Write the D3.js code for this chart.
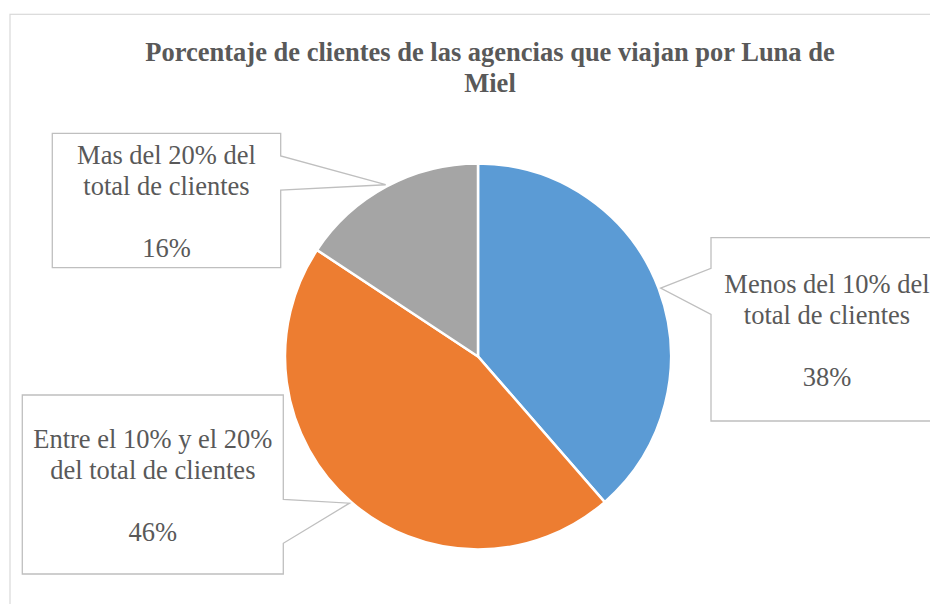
<!DOCTYPE html>
<html>
<head>
<meta charset="utf-8">
<script src="https://cdn.jsdelivr.net/npm/d3@7"></script>
<style>
  body { margin: 0; background: #fff; }
  svg { display: block; }
</style>
</head>
<body>
<div id="chart"></div>
<script>
// datos
var categories = ["Menos del 10% del total de clientes",
                  "Entre el 10% y el 20% del total de clientes",
                  "Mas del 20% del total de clientes"];
var labelLines = [["Menos del 10% del", "total de clientes"],
                  ["Entre el 10% y el 20%", "del total de clientes"],
                  ["Mas del 20% del", "total de clientes"]];
var values = [38.6, 45.7, 15.7];
var pctLabels = ["38%", "46%", "16%"];
var colors = ["#5b9bd5", "#ed7d31", "#a5a5a5"];

var width = 930, height = 604;
var cx = 478, cy = 356.5, radius = 193;

// cajas de etiquetas (x, y, ancho, alto, lado del puntero, base del puntero)
var boxes = [
  {x: 711, y: 237.7, w: 232, h: 183.3, side: "left", b0: 268.3, b1: 314.3},
  {x: 22.3, y: 395, w: 261, h: 179, side: "right", b0: 499.3, b1: 543.3},
  {x: 52.3, y: 133.3, w: 228.4, h: 134.4, side: "right", b0: 156, b1: 190}
];

var svg = d3.select("#chart").append("svg")
    .attr("width", width).attr("height", height);

// marco del grafico
svg.append("rect")
    .attr("x", 10).attr("y", 14.3)
    .attr("width", 1000).attr("height", 700)
    .attr("fill", "none")
    .attr("stroke", "#d9d9d9")
    .attr("stroke-width", 1.2);

svg.append("text")
    .attr("x", 490).attr("y", 60.7)
    .attr("text-anchor", "middle")
    .style("font", "bold 26.5px 'Liberation Serif', 'Times New Roman', serif")
    .style("fill", "#595959")
    .selectAll("tspan")
    .data(["Porcentaje de clientes de las agencias que viajan por Luna de", "Miel"])
    .enter().append("tspan")
      .attr("x", 490)
      .attr("dy", function(d, i) { return i ? 30.8 : 0; })
      .text(function(d) { return d; });

var pie = d3.pie().sort(null).value(function(d) { return d; });
var arc = d3.arc().innerRadius(0).outerRadius(radius);
var tipArc = d3.arc().innerRadius(195).outerRadius(195);

var arcs = pie(values);

var g = svg.append("g").attr("transform", "translate(" + cx + "," + cy + ")");

g.selectAll(".slice")
  .data(arcs)
  .enter().append("path")
    .attr("class", "slice")
    .attr("d", arc)
    .attr("fill", function(d, i) { return colors[i]; })
    .attr("stroke", "#fff")
    .attr("stroke-width", 2.5);

// llamadas con puntero
var callout = svg.selectAll(".callout")
  .data(arcs)
  .enter().append("g")
    .attr("class", "callout");

callout.append("path")
    .attr("d", function(d, i) {
      var b = boxes[i];
      var c = tipArc.centroid(d);
      var tx = cx + c[0], ty = cy + c[1];
      var x0 = b.x, x1 = b.x + b.w, y0 = b.y, y1 = b.y + b.h;
      if (b.side === "right") {
        return "M" + x0 + "," + y0 + "L" + x1 + "," + y0 + "L" + x1 + "," + b.b0 +
          "L" + tx + "," + ty + "L" + x1 + "," + b.b1 + "L" + x1 + "," + y1 +
          "L" + x0 + "," + y1 + "Z";
      }
      return "M" + x1 + "," + y0 + "L" + x0 + "," + y0 + "L" + x0 + "," + b.b0 +
        "L" + tx + "," + ty + "L" + x0 + "," + b.b1 + "L" + x0 + "," + y1 +
        "L" + x1 + "," + y1 + "Z";
    })
    .attr("fill", "#fff")
    .attr("stroke", "#bfbfbf")
    .attr("stroke-width", 1.3);

callout.append("text")
    .attr("text-anchor", "middle")
    .style("font", "26.5px 'Liberation Serif', 'Times New Roman', serif")
    .style("fill", "#595959")
    .selectAll("tspan")
    .data(function(d, i) {
      var b = boxes[i];
      var mx = b.x + b.w / 2, my = b.y + b.h / 2 + 10;
      var lines = labelLines[i].concat(["", pctLabels[i]]);
      return lines.map(function(t, j) { return {t: t, x: mx, y: my + (j - 1.5) * 30.8}; });
    })
    .enter().append("tspan")
      .attr("x", function(d) { return d.x; })
      .attr("y", function(d) { return d.y; })
      .text(function(d) { return d.t; });
</script>
</body>
</html>
